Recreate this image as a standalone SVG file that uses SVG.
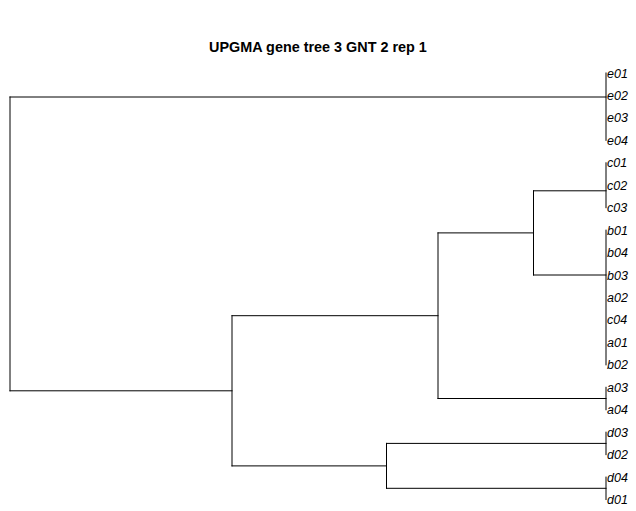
<svg xmlns="http://www.w3.org/2000/svg" width="636" height="511" viewBox="0 0 636 511">
  <style>
    .edge { stroke: #000; stroke-width: 1; fill: none; stroke-linecap: square; }
    .title { font-family: "Liberation Sans", Arial, sans-serif; font-weight: bold; font-size: 14.4px; fill: #000; }
    .tip { font-family: "Liberation Sans", Arial, sans-serif; font-style: italic; font-size: 12.5px; fill: #000; }
  </style>
  <rect width="636" height="511" fill="#fff"/>
  <text class="title" x="318" y="52" text-anchor="middle">UPGMA gene tree 3 GNT 2 rep 1</text>

  <!-- branches of the dendrogram -->
  <g id="connectors">
    <!-- root -->
    <path class="edge" d="M10 97 V390.8"/>
    <path class="edge" d="M10 97 H606"/>
    <path class="edge" d="M10 390.8 H232"/>
    <!-- node A -->
    <path class="edge" d="M232 315.7 V465.9"/>
    <path class="edge" d="M232 315.7 H438"/>
    <path class="edge" d="M232 465.9 H386.5"/>
    <!-- node B -->
    <path class="edge" d="M438 232.9 V398.5"/>
    <path class="edge" d="M438 232.9 H533.5"/>
    <path class="edge" d="M438 398.5 H606"/>
    <!-- node C -->
    <path class="edge" d="M533.5 190.8 V275"/>
    <path class="edge" d="M533.5 190.8 H606"/>
    <path class="edge" d="M533.5 275 H606"/>
    <!-- node D -->
    <path class="edge" d="M386.5 443.4 V488.3"/>
    <path class="edge" d="M386.5 443.4 H606"/>
    <path class="edge" d="M386.5 488.3 H606"/>
    <!-- near-zero tip clades -->
    <path class="edge" d="M606 73 V140.35"/>
    <path class="edge" d="M606 162.8 V207.7"/>
    <path class="edge" d="M606 230.15 V364.85"/>
    <path class="edge" d="M606 387.3 V409.75"/>
    <path class="edge" d="M606 432.2 V454.65"/>
    <path class="edge" d="M606 477.1 V499.55"/>
  </g>

  <!-- tip labels -->
  <g id="tips">
    <g id="tip-e01"><text class="tip" x="607" y="77.5">e01</text></g>
    <g id="tip-e02"><text class="tip" x="607" y="99.95">e02</text></g>
    <g id="tip-e03"><text class="tip" x="607" y="122.4">e03</text></g>
    <g id="tip-e04"><text class="tip" x="607" y="144.85">e04</text></g>
    <g id="tip-c01"><text class="tip" x="607" y="167.3">c01</text></g>
    <g id="tip-c02"><text class="tip" x="607" y="189.75">c02</text></g>
    <g id="tip-c03"><text class="tip" x="607" y="212.2">c03</text></g>
    <g id="tip-b01"><text class="tip" x="607" y="234.65">b01</text></g>
    <g id="tip-b04"><text class="tip" x="607" y="257.1">b04</text></g>
    <g id="tip-b03"><text class="tip" x="607" y="279.55">b03</text></g>
    <g id="tip-a02"><text class="tip" x="607" y="302">a02</text></g>
    <g id="tip-c04"><text class="tip" x="607" y="324.45">c04</text></g>
    <g id="tip-a01"><text class="tip" x="607" y="346.9">a01</text></g>
    <g id="tip-b02"><text class="tip" x="607" y="369.35">b02</text></g>
    <g id="tip-a03"><text class="tip" x="607" y="391.8">a03</text></g>
    <g id="tip-a04"><text class="tip" x="607" y="414.25">a04</text></g>
    <g id="tip-d03"><text class="tip" x="607" y="436.7">d03</text></g>
    <g id="tip-d02"><text class="tip" x="607" y="459.15">d02</text></g>
    <g id="tip-d04"><text class="tip" x="607" y="481.6">d04</text></g>
    <g id="tip-d01"><text class="tip" x="607" y="504.05">d01</text></g>
  </g>
</svg>
